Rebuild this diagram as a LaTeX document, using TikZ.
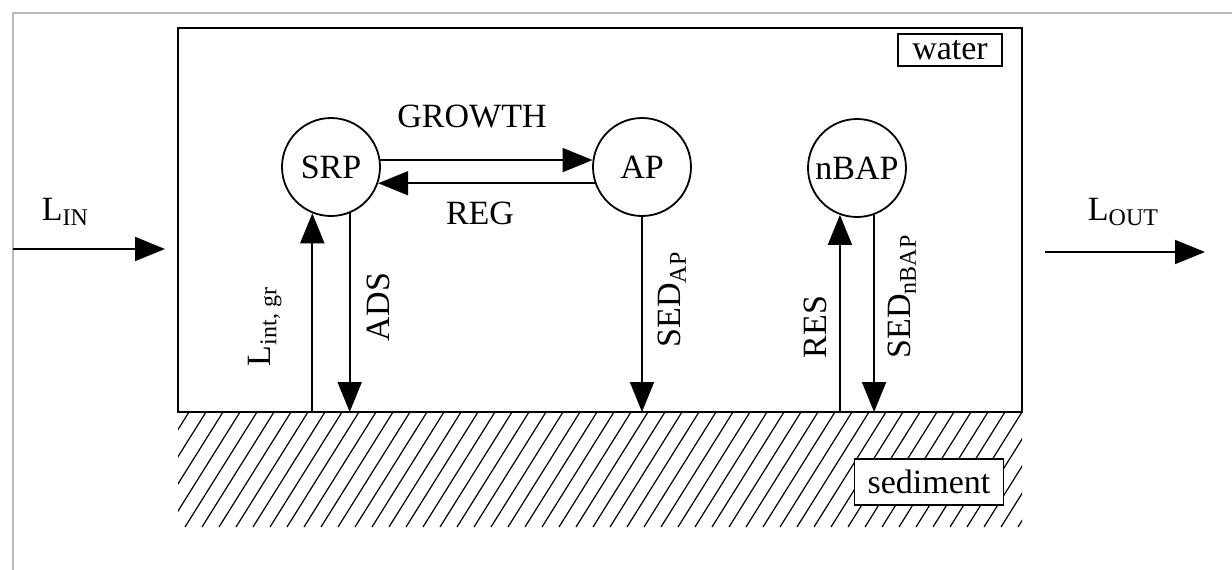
\documentclass[tikz,border=0pt]{standalone}
\usepackage{fontspec}
\setmainfont{Liberation Serif}
\usetikzlibrary{calc, positioning, arrows.meta}
\newcommand{\lowsub}[1]{\raisebox{-0.35ex}{\fontsize{24}{24}\selectfont #1}}

\begin{document}
\begin{tikzpicture}[x=1pt, y=-1pt, >={Triangle[length=30pt,width=24pt]},
    line width=1.8pt, font=\fontsize{34}{37}\selectfont,
    pool/.style={circle, draw, minimum size=98pt, inner sep=0pt},
    tag/.style={draw, fill=white, inner sep=0pt, minimum width=#1, minimum height=32pt}]
    \useasboundingbox (0,0) rectangle (1232,570);
    % Khung ngoài
    \draw[gray!55, line width=1.5pt] (13,570) -- (13,13) -- (1232,13);

    % Lớp trầm tích (gạch chéo)
    \begin{scope}
        \clip (178,412) rectangle (1022,527);
        \foreach \i in {0,...,55}
            \draw[line width=1.2pt] ({100+17*\i},527) -- ++(72,-115);
    \end{scope}

    % Cột nước
    \draw[line width=2.2pt] (178,412) rectangle (1022,28);
    \coordinate (gnd) at (0,412);
    \node[tag=104pt] (water) at (950,50) {water};
    \node[tag=149pt, minimum height=46pt] (sed) at (929,482) {sediment};

    % Các ngăn
    \node[pool] (SRP) at (331,167) {SRP};
    \node[pool] (AP) at (642,167) {AP};
    \node[pool] (nBAP) at (857,168) {nBAP};

    % Dòng trao đổi
    \draw[->] (SRP.8) -- (AP.172);
    \draw[->] (AP.-161) -- (SRP.-19);
    \node (growth) at (472,117) {GROWTH};
    \node (reg) at (480,213) {REG};

    \draw[->] (SRP.248 |- gnd) -- (SRP.248);
    \draw[->] (SRP.292) -- (SRP.292 |- gnd);
    \draw[->] (AP.south) -- (AP.south |- gnd);
    \draw[->] (nBAP.250 |- gnd) -- (nBAP.250);
    \draw[->] (nBAP.290) -- (nBAP.290 |- gnd);
    \node[rotate=90] (lint) at (265,327) {L\lowsub{int, gr}};
    \node[rotate=90] (ads) at (378,307) {ADS};
    \node[rotate=90] (sedap) at (672,300) {SED\lowsub{AP}};
    \node[rotate=90] (res) at (815,327) {RES};
    \node[rotate=90] (sednbap) at (902,297) {SED\lowsub{nBAP}};

    % Tải vào / tải ra
    \coordinate (inA) at (13,249);
    \coordinate (inB) at (165,249);
    \coordinate (outA) at (1045,252);
    \coordinate (outB) at (1205,252);
    \draw[->] (inA) -- (inB);
    \draw[->] (outA) -- (outB);
    \node (lin) at (65,212) {L\lowsub{IN}};
    \node (lout) at (1123,212) {L\lowsub{OUT}};
\end{tikzpicture}
\end{document}
